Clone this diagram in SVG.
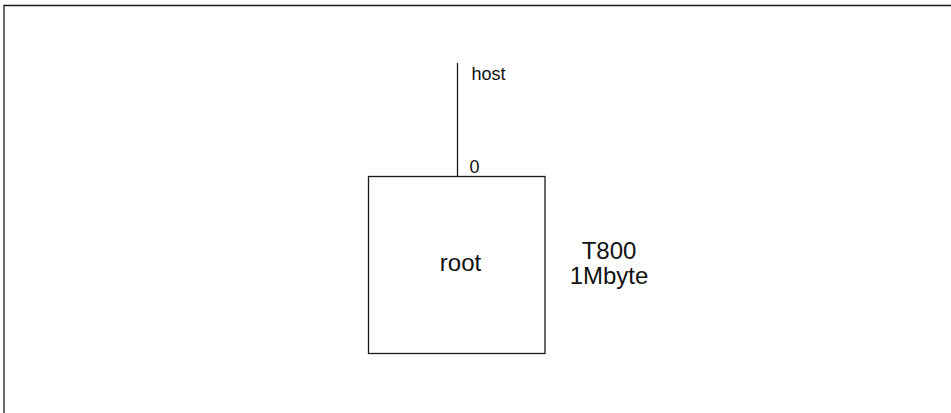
<svg xmlns="http://www.w3.org/2000/svg" width="951" height="413" viewBox="0 0 951 413">
<style>
.ln{stroke:#1a1a1a;stroke-width:1.3;fill:none}
.t{font-family:"Liberation Sans",Arial,sans-serif;fill:#111}
.big{font-size:24px}
.sm{font-size:18px}
</style>
<rect width="951" height="413" fill="#fff"/>
<g id="frame"><path class="ln" d="M4,413 V5.5 H951" stroke-width="1.6"/></g>
<g id="connectors">
<line class="ln" x1="457.5" y1="63" x2="457.5" y2="176.5"/>
<text class="t sm" x="471.5" y="79.5">host</text>
<text class="t sm" x="469.5" y="172.5">0</text>
</g>
<g id="root">
<rect class="ln" x="368.5" y="176.5" width="176.5" height="177"/>
<text class="t big" x="460.5" y="270.5" text-anchor="middle">root</text>
</g>
<g id="label">
<text class="t big" x="609" y="258.5" text-anchor="middle">T800</text>
<text class="t big" x="609" y="283.5" text-anchor="middle">1Mbyte</text>
</g>
</svg>
